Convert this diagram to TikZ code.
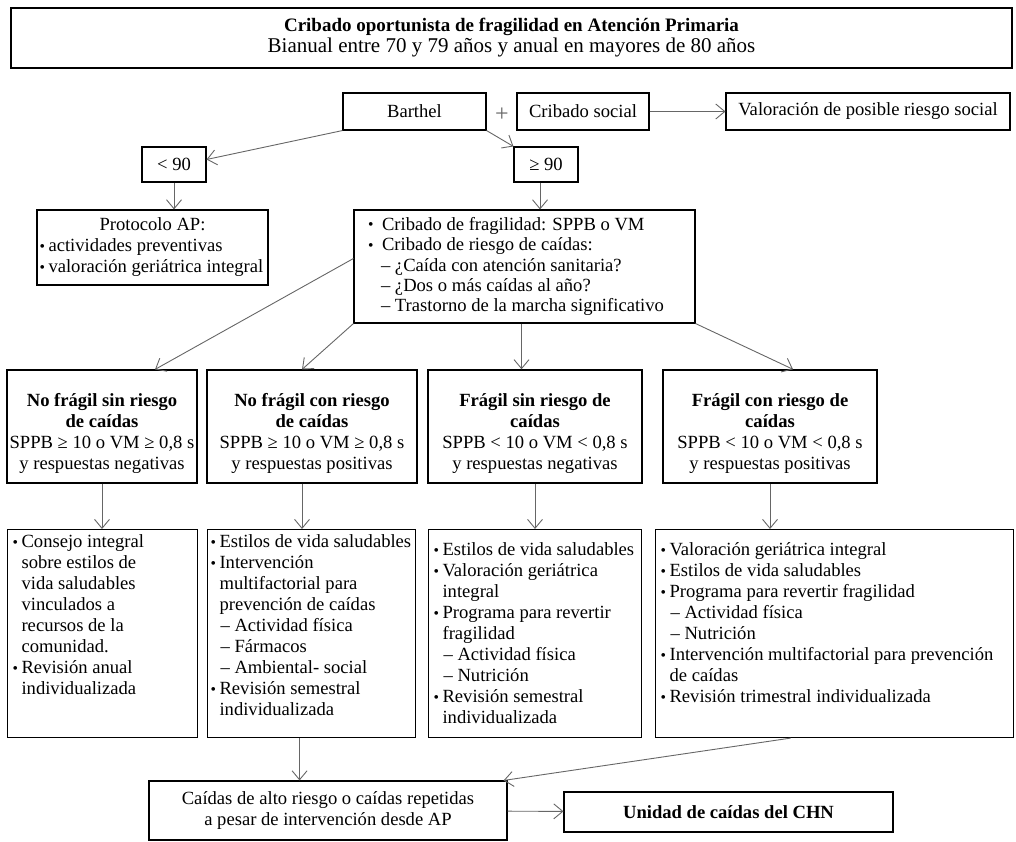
\documentclass[tikz,border=0pt]{standalone}
\usepackage{fontspec}
\setmainfont{Liberation Serif}
\usetikzlibrary{arrows.meta}
\newcommand{\bitem}[1][9pt]{\makebox[#1][l]{\raisebox{0.5pt}{\fontsize{15.5}{15}\selectfont\textbullet}}}
\newcommand{\bcont}[1][9pt]{\hspace*{#1}}
\newcommand{\bsub}[1][10pt]{\hspace*{#1}\makebox[14pt][l]{–}}

\begin{document}
\begin{tikzpicture}[x=1pt, y=-1pt, font=\fontsize{18.6}{21}\selectfont,
  box/.style={draw, line width=1.1pt, inner sep=0pt, align=center},
  act/.style={draw, line width=1.1pt, anchor=north west, inner xsep=5pt, inner ysep=0pt},
  arr/.style={draw=black!60, line width=0.9pt, -{Straight Barb[length=9pt, width=15pt]}}]
  \useasboundingbox (0,0) rectangle (1016,842);
  \node[box, line width=1.6pt, minimum width=1001, minimum height=60] (title) at (511.5,38)
    {{\fontsize{19}{21}\selectfont\bfseries Cribado oportunista de fragilidad en Atención Primaria}\\
     {\fontsize{21}{21}\selectfont Bianual entre 70 y 79 años y anual en mayores de 80 años}};
  \node[box, minimum width=143, minimum height=37] (barthel) at (414.5,111.5) {Barthel};
  \node[text=black!60, font=\fontsize{24}{24}\selectfont] (plus) at (502,115) {+};
  \node[box, minimum width=132, minimum height=37] (social) at (583,111.5) {Cribado social};
  \node[box, minimum width=284, minimum height=37] (riesgo) at (868,111.5) {Valoración de posible riesgo social};
  \node[box, minimum width=64, minimum height=35] (lt90) at (174,164.5) {< 90};
  \node[box, minimum width=64, minimum height=35] (ge90) at (546,164.5) {≥ 90};
  \node[box, minimum width=231, minimum height=75] (prot) at (152.5,247.5)
    {\parbox{226pt}{\raggedright\makebox[226pt]{Protocolo AP:}\\\bitem actividades preventivas\\\bitem valoración geriátrica integral}};
  \node[box, minimum width=341, minimum height=113, font=\fontsize{18.6}{20.3}\selectfont] (crib) at (524.5,266.5)
    {\parbox{313pt}{\raggedright\bitem[14pt]Cribado de fragilidad: SPPB o VM\\
     \bitem[14pt]Cribado de riesgo de caídas:\\
     \bsub[13pt]¿Caída con atención sanitaria?\\
     \bsub[13pt]¿Dos o más caídas al año?\\
     \bsub[13pt]Trastorno de la marcha significativo}};
  \node[box, minimum width=190, minimum height=113] (cat1) at (102,426.5)
    {\rule{0pt}{27pt}\textbf{No frágil sin riesgo}\\\textbf{de caídas}\\SPPB ≥ 10 o VM ≥ 0,8 s\\y respuestas negativas};
  \node[box, minimum width=210, minimum height=113] (cat2) at (312,426.5)
    {\rule{0pt}{27pt}\textbf{No frágil con riesgo}\\\textbf{de caídas}\\SPPB ≥ 10 o VM ≥ 0,8 s\\y respuestas positivas};
  \node[box, line width=1.4pt, minimum width=214, minimum height=113] (cat3) at (535,426.5)
    {\rule{0pt}{27pt}\textbf{Frágil sin riesgo de}\\\textbf{caídas}\\SPPB < 10 o VM < 0,8 s\\y respuestas negativas};
  \node[box, line width=1.4pt, minimum width=214, minimum height=113] (cat4) at (770,426.5)
    {\rule{0pt}{27pt}\textbf{Frágil con riesgo de}\\\textbf{caídas}\\SPPB < 10 o VM < 0,8 s\\y respuestas positivas};
  \node[act, text height=18pt, text depth=190pt] (act1) at (7,529)
    {\parbox[t]{180pt}{\raggedright\bitem Consejo integral\\\bcont sobre estilos de\\\bcont vida saludables\\
     \bcont vinculados a\\\bcont recursos de la\\\bcont comunidad.\\\bitem Revisión anual\\\bcont individualizada}};
  \node[act, inner xsep=3pt, text height=18pt, text depth=190pt] (act2) at (207,529)
    {\parbox[t]{202pt}{\raggedright\bitem Estilos de vida saludables\\\bitem Intervención\\\bcont multifactorial para\\
     \bcont prevención de caídas\\\bsub Actividad física\\\bsub Fármacos\\\bsub Ambiental- social\\
     \bitem Revisión semestral\\\bcont individualizada}};
  \node[act, text height=26pt, text depth=182pt] (act3) at (428,529)
    {\parbox[t]{203pt}{\raggedright\bitem Estilos de vida saludables\\\bitem Valoración geriátrica\\\bcont integral\\
     \bitem Programa para revertir\\\bcont fragilidad\\\bsub Actividad física\\\bsub Nutrición\\
     \bitem Revisión semestral\\\bcont individualizada}};
  \node[act, text height=26pt, text depth=182pt] (act4) at (655,529)
    {\parbox[t]{348pt}{\raggedright\bitem Valoración geriátrica integral\\\bitem Estilos de vida saludables\\
     \bitem Programa para revertir fragilidad\\\bsub Actividad física\\\bsub Nutrición\\
     \bitem Intervención multifactorial para prevención\\\bcont de caídas\\\bitem Revisión trimestral individualizada}};
  \node[box, minimum width=358, minimum height=59] (caidas) at (328,810.5)
    {Caídas de alto riesgo o caídas repetidas\\a pesar de intervención desde AP};
  \node[box, minimum width=329, minimum height=40] (unidad) at (728.5,812) {\textbf{Unidad de caídas del CHN}};
  \draw[arr] (barthel.south west) -- ([yshift=5pt]lt90.east);
  \draw[arr] (barthel.south east) -- (ge90.north west);
  \draw[arr] (social) -- (riesgo);
  \draw[arr] (lt90) -- (lt90 |- prot.north);
  \draw[arr] ([xshift=-6pt]ge90.south) -- ([xshift=-6pt]ge90.south |- crib.north);
  \draw[arr] ([yshift=8pt]crib.west) -- ([xshift=53pt]cat1.north);
  \draw[arr] (crib.south west) -- ([xshift=-10pt]cat2.north);
  \draw[arr] ([xshift=-3pt]crib.south) -- ([xshift=-3pt]crib.south |- cat3.north);
  \draw[arr] (crib.south east) -- ([xshift=23pt]cat4.north);
  \draw[arr] (cat1) -- (cat1 |- act1.north);
  \draw[arr] ([xshift=-10pt]cat2.south) -- ([xshift=-10pt]cat2.south |- act2.north);
  \draw[arr] (cat3) -- (cat3 |- act3.north);
  \draw[arr] (cat4) -- (cat4 |- act4.north);
  \draw[arr] ([xshift=-12pt]act2.south) -- ([xshift=-12pt]act2.south |- caidas.north);
  \draw[arr] ([xshift=-44pt]act4.south) -- ([xshift=-4pt]caidas.north east);
  \draw[arr] (caidas) -- (unidad);
\end{tikzpicture}
\end{document}
